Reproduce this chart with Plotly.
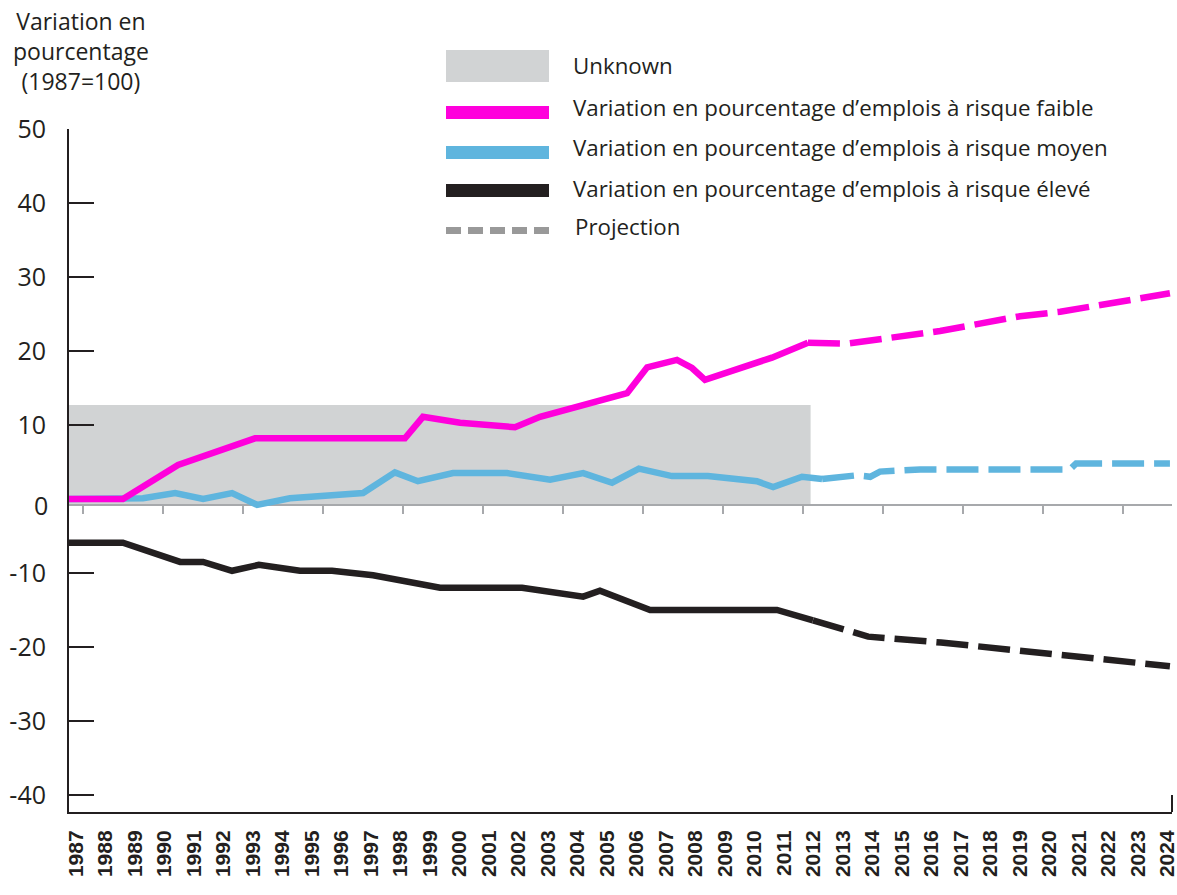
import plotly.graph_objects as go

# ---------------- data ----------------
years_labels = list(range(1987, 2025))

# low-risk jobs (solid, observed)
low_x = [1986.76, 1988.59, 1990.46, 1993.07, 1998.15, 1998.76, 2000.02, 2001.88,
         2002.73, 2005.68, 2006.36, 2007.37, 2007.88, 2008.32, 2010.59, 2011.81]
low_y = [0, 0, 4.6, 8.2, 8.2, 11.1, 10.3, 9.7, 11.1, 14.3, 17.8, 18.8, 17.7, 16.1, 19.1, 21.1]
# low-risk jobs (projection)
low_px = [2011.81, 2013.17, 2016.29, 2019.0, 2020.36, 2023.07, 2024.08]
low_py = [21.1, 21.0, 22.7, 24.7, 25.3, 27.0, 27.8]

# medium-risk jobs
mid_x = [1986.76, 1988.59, 1989.27, 1990.36, 1991.31, 1992.29, 1993.14, 1994.25,
         1996.73, 1997.81, 1998.59, 1999.78, 2001.61, 2003.07, 2004.19, 2005.17,
         2006.08, 2007.20, 2008.42, 2010.08, 2010.63, 2011.61, 2012.29]
mid_y = [0, 0, 0.1, 0.8, 0, 0.8, -0.8, 0.1, 0.8, 3.6, 2.4, 3.5, 3.5, 2.6, 3.5, 2.2,
         4.1, 3.1, 3.1, 2.4, 1.6, 3.0, 2.7]
mid_px = [2012.29, 2013.47, 2013.92, 2014.25, 2015.61, 2020.69, 2020.90, 2024.08]
mid_py = [2.7, 3.2, 3.0, 3.7, 4.0, 4.0, 4.8, 4.8]

# high-risk jobs
high_x = [1986.76, 1988.59, 1990.53, 1991.31, 1992.29, 1993.20, 1994.59, 1995.68,
          1997.07, 1999.34, 2002.12, 2004.19, 2004.76, 2006.46, 2010.76, 2011.98]
high_y = [-5.9, -5.9, -8.5, -8.5, -9.7, -8.9, -9.7, -9.7, -10.3, -12.0, -12.0, -13.2,
          -12.4, -15.0, -15.0, -16.4]
high_px = [2011.98, 2013.41, 2013.85, 2016.32, 2019.14, 2021.88, 2024.08]
high_py = [-16.4, -18.2, -18.6, -19.4, -20.6, -21.6, -22.6]

# "Unknown" shaded region (x from, x to, y from, y to)
unknown_x = [1986.76, 2011.9]
unknown_y = [-0.8, 12.7]

y_ticks = [50, 40, 30, 20, 10, -10, -20, -30, -40]

legend_labels = ["Unknown",
                 "Variation en pourcentage d’emplois à risque faible",
                 "Variation en pourcentage d’emplois à risque moyen",
                 "Variation en pourcentage d’emplois à risque élevé",
                 "Projection"]

# ---------------- style ----------------
PINK = "#ff00dc"
BLUE = "#5fb5de"
BLACK = "#231f20"
GREYBOX = "#d1d3d4"
GREYAX = "#a7a9ac"
FONT = "Open Sans"

W, H = 1177, 895
L, R, T, B = 69, 1172, 129, 812   # plot area in px
XR = [1986.763, 2024.15]
YR = [-42.3, 50]


def px(xp):
    return (xp - L) / (R - L)


def py(yp):
    return (B - yp) / (B - T)


LW = 6.5
DASH = "32px,10px"

fig = go.Figure()

# dummy trace to make the grey zero axis exist
fig.add_trace(go.Scatter(x=[XR[0]], y=[None], xaxis="x2", yaxis="y",
                         mode="lines", showlegend=False, hoverinfo="skip"))

for xs, ys, c in [(mid_x, mid_y, BLUE), (low_x, low_y, PINK), (high_x, high_y, BLACK)]:
    fig.add_trace(go.Scatter(x=xs, y=ys, mode="lines", showlegend=False,
                             line=dict(color=c, width=LW, shape="linear"),
                             hoverinfo="skip"))
for xs, ys, c in [(mid_px, mid_py, BLUE), (low_px, low_py, PINK), (high_px, high_py, BLACK)]:
    fig.add_trace(go.Scatter(x=xs, y=ys, mode="lines", showlegend=False,
                             line=dict(color=c, width=LW, dash=DASH),
                             hoverinfo="skip"))

shapes = []
# unknown region
shapes.append(dict(type="rect", xref="x", yref="y", x0=unknown_x[0], x1=unknown_x[1],
                   y0=unknown_y[0], y1=unknown_y[1], fillcolor=GREYBOX,
                   line=dict(width=0), layer="below"))
# right end cap of bottom axis
shapes.append(dict(type="line", xref="paper", yref="paper", x0=1, x1=1,
                   y0=0, y1=py(795), line=dict(color=BLACK, width=2)))

# legend symbols
shapes.append(dict(type="rect", xref="paper", yref="paper", x0=px(446), x1=px(549),
                   y0=py(82), y1=py(50), fillcolor=GREYBOX, line=dict(width=0)))
for c, yc in [(PINK, 112.5), (BLUE, 152.5), (BLACK, 190.5)]:
    shapes.append(dict(type="rect", xref="paper", yref="paper", x0=px(446), x1=px(549),
                       y0=py(yc + 6.5), y1=py(yc - 6.5), fillcolor=c, line=dict(width=0)))
shapes.append(dict(type="line", xref="paper", yref="paper", x0=px(446), x1=px(550),
                   y0=py(230.5), y1=py(230.5),
                   line=dict(color="#999999", width=7, dash="15px,7px")))

annotations = []
for lab, yc, xl in zip(legend_labels, [65, 108, 148, 188, 226], [571, 571, 571, 571, 573]):
    annotations.append(dict(text=lab, xref="paper", yref="paper", x=px(xl), y=py(yc),
                            xanchor="left", yanchor="middle", showarrow=False,
                            font=dict(family=FONT, size=22.3, color=BLACK)))
# axis title
annotations.append(dict(text="Variation en<br>pourcentage<br>(1987=100)", xref="paper",
                        yref="paper", x=px(81), y=py(51), xanchor="center",
                        yanchor="middle", showarrow=False, align="center",
                        font=dict(family=FONT, size=23, color=BLACK)))
# "0" label on the grey zero axis
annotations.append(dict(text="0", xref="paper", yref="y", x=0, y=unknown_y[0],
                        xanchor="right", yanchor="middle", xshift=-19, showarrow=False,
                        font=dict(family=FONT, size=25, color=BLACK)))

fig.update_layout(
    width=W, height=H,
    margin=dict(l=L, r=W - R, t=T, b=H - B, pad=0, autoexpand=False),
    plot_bgcolor="white", paper_bgcolor="white",
    showlegend=False,
    shapes=shapes, annotations=annotations,
    xaxis=dict(range=XR, tickvals=years_labels, ticktext=[str(y) for y in years_labels],
               tickangle=-90, showgrid=False, zeroline=False, automargin=False,
               showline=True, linecolor=BLACK, linewidth=2, ticklabeloverflow="allow",
               ticks="outside", ticklen=8, tickcolor="rgba(0,0,0,0)",
               tickfont=dict(family="Liberation Sans", size=21, color=BLACK, weight="bold")),
    xaxis2=dict(range=XR, overlaying="x", anchor="free", position=py(505), side="bottom",
                showline=True, linecolor=GREYAX, linewidth=2, showgrid=False,
                zeroline=False, ticks="outside", ticklen=8, tickwidth=2, automargin=False,
                tickcolor=GREYAX, tick0=1987.227, dtick=80 / 29.5,
                showticklabels=False, layer="below traces"),
    yaxis=dict(range=YR, tickvals=y_ticks, ticktext=[str(v) for v in y_ticks],
               showgrid=False, zeroline=False, showline=True, linecolor=BLACK,
               linewidth=2, ticks="inside", ticklen=25, tickwidth=2, tickcolor=BLACK,
               ticklabelstandoff=16, automargin=False, ticklabeloverflow="allow",
               tickfont=dict(family=FONT, size=25, color=BLACK)),
)

fig.write_html("out.html", config={"displayModeBar": False},
               post_script="document.body.style.margin='0px';document.body.style.overflow='hidden';")
